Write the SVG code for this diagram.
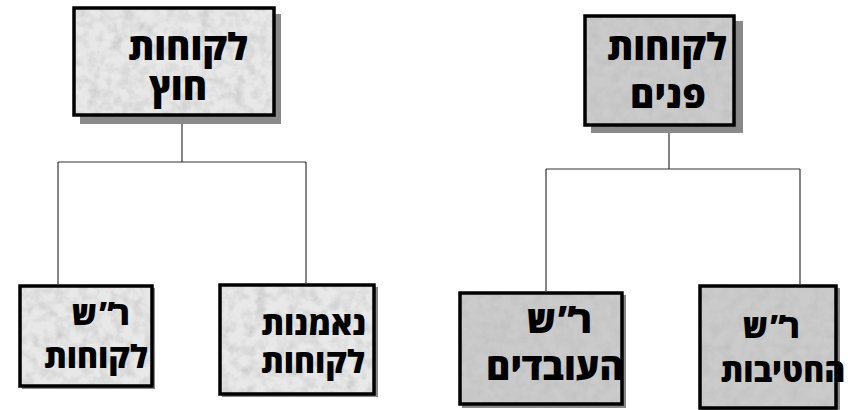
<svg xmlns="http://www.w3.org/2000/svg" width="848" height="410" viewBox="0 0 848 410">
  <defs>
    <!-- granite-like grain for box fills -->
    <filter id="grain" x="0" y="0" width="100%" height="100%">
      <feTurbulence type="fractalNoise" baseFrequency="0.09" numOctaves="3" seed="4" result="n"/>
      <feColorMatrix in="n" type="matrix" values="0 0 0 0 0.5  0 0 0 0 0.5  0 0 0 0 0.5  0.9 0.9 0 0 -0.75" result="g"/>
      <feComposite in="g" in2="SourceGraphic" operator="in" result="gc"/>
      <feMerge><feMergeNode in="SourceGraphic"/><feMergeNode in="gc"/></feMerge>
    </filter>
  </defs>
  <style>
    .shadow { fill: #8a8a8a; }
    .edge { fill: none; stroke: #000; stroke-width: 3.5; }
    .light { fill: #e8e8e8; }
    .dark { fill: #cbcbcb; }
    .lbl { font-family: "Open Sans", "DejaVu Sans", sans-serif; font-weight: 800; fill: #000; text-anchor: middle; }
    .big { font-size: 37px; }
    .mid { font-size: 32px; }
    .conn { fill: none; stroke: #333; stroke-width: 1.2; }
  </style>

  <rect width="848" height="410" fill="#fff"/>

  <!-- connectors -->
  <g id="connectors">
    <path class="conn" d="M182 124 V162 M58 162 H306 M58 162 V284 M306 162 V283"/>
    <path class="conn" d="M669 133 V169 M546 169 H800 M546 169 V291 M800 169 V284"/>
  </g>

  <!-- external customers -->
  <g id="node-external">
    <rect class="shadow" x="80" y="14" width="201" height="110"/>
    <rect class="light" x="74" y="8" width="200" height="107" filter="url(#grain)"/>
    <rect class="edge" x="74" y="8" width="200" height="107"/>
    <text class="lbl big" x="188" y="60">לקוחות</text>
    <text class="lbl big" x="178" y="100">חוץ</text>
  </g>

  <!-- internal customers -->
  <g id="node-internal">
    <rect class="shadow" x="591" y="21" width="152" height="112"/>
    <rect class="dark" x="585" y="16" width="149" height="109" filter="url(#grain)"/>
    <rect class="edge" x="585" y="16" width="149" height="109"/>
    <text class="lbl big" x="667" y="60">לקוחות</text>
    <text class="lbl big" x="668" y="108">פנים</text>
  </g>

  <!-- customer service (abbreviation glyphs placed one by one) -->
  <g id="node-customer-service">
    <rect class="shadow" x="22" y="288" width="133" height="101"/>
    <rect class="light" x="20" y="286" width="132" height="100" filter="url(#grain)"/>
    <rect class="edge" x="20" y="286" width="132" height="100"/>
    <text class="lbl mid" x="121 107 84" y="325">ר”ש</text>
    <text class="lbl mid" x="96" y="368">לקוחות</text>
  </g>

  <!-- customer loyalty -->
  <g id="node-loyalty">
    <rect class="shadow" x="222" y="287" width="156" height="110"/>
    <rect class="light" x="220" y="285" width="154" height="109" filter="url(#grain)"/>
    <rect class="edge" x="220" y="285" width="154" height="109"/>
    <text class="lbl mid" x="314" y="335">נאמנות</text>
    <text class="lbl mid" x="313" y="373">לקוחות</text>
  </g>

  <!-- employee service -->
  <g id="node-employees">
    <rect class="shadow" x="462" y="295" width="164" height="113"/>
    <rect class="dark" x="460" y="293" width="162" height="111" filter="url(#grain)"/>
    <rect class="edge" x="460" y="293" width="162" height="111"/>
    <text class="lbl big" x="582 567 541" y="333">ר”ש</text>
    <text class="lbl big" x="555" y="380">העובדים</text>
  </g>

  <!-- divisions service -->
  <g id="node-divisions">
    <rect class="shadow" x="702" y="288" width="138" height="122"/>
    <rect class="dark" x="700" y="286" width="136" height="122" filter="url(#grain)"/>
    <rect class="edge" x="700" y="286" width="136" height="122"/>
    <text class="lbl mid" x="791 778 755" y="338">ר”ש</text>
    <text class="lbl mid" x="783" y="382">החטיבות</text>
  </g>
</svg>
